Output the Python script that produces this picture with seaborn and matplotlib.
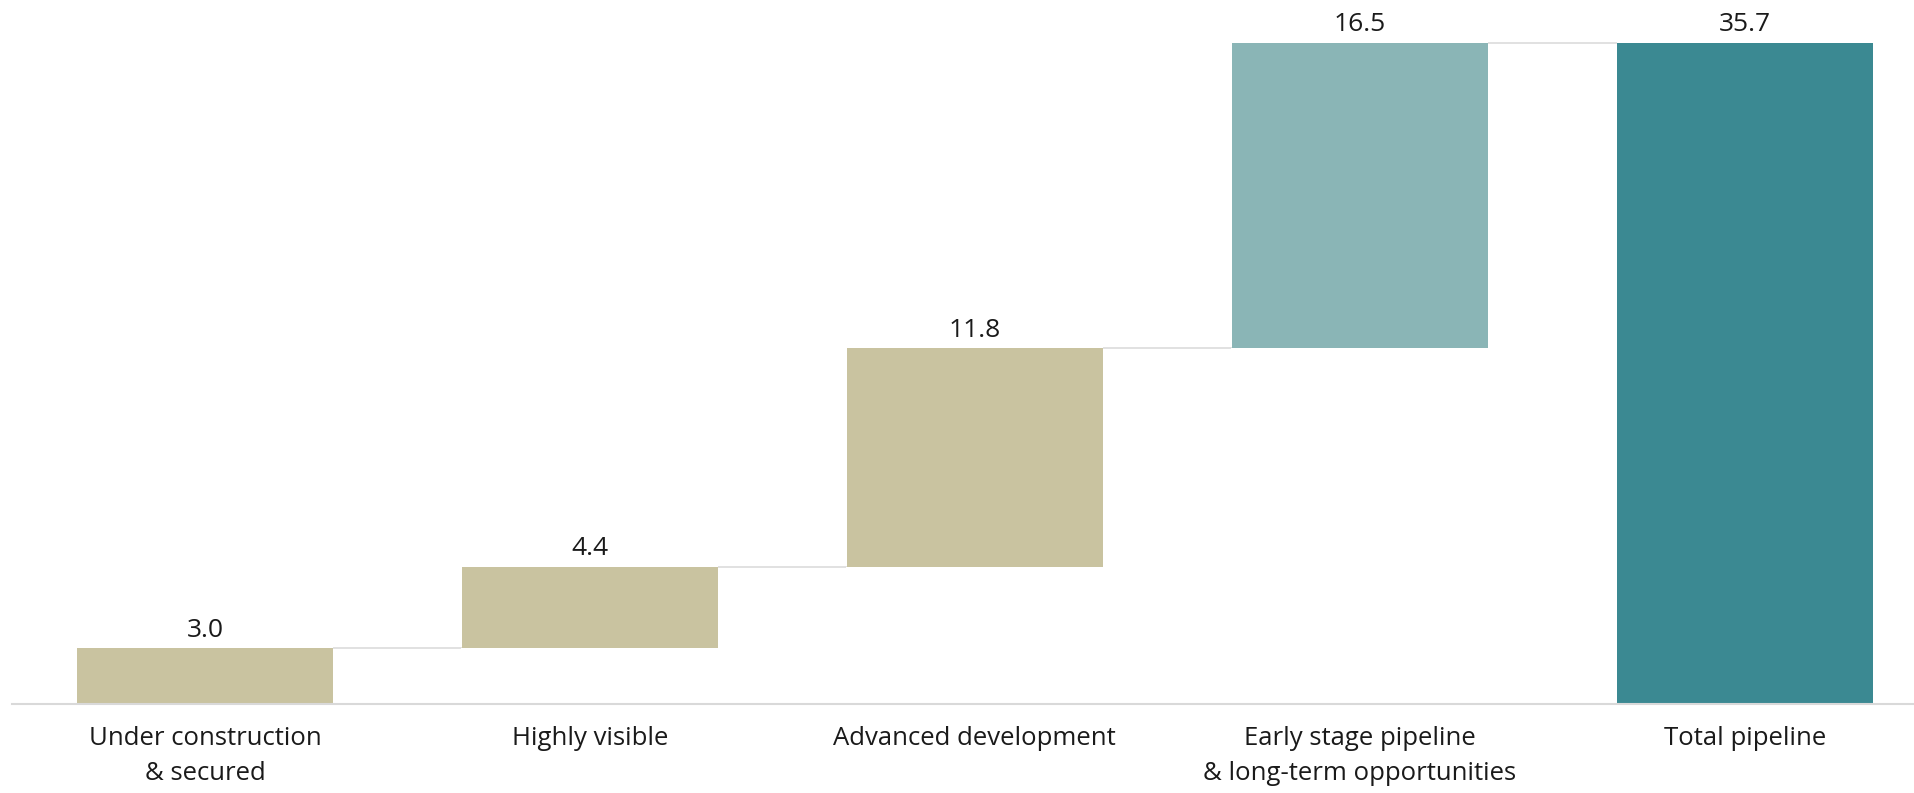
import matplotlib
matplotlib.use("Agg")
import matplotlib.pyplot as plt
import seaborn as sns
import pandas as pd
import numpy as np

categories = ["Under construction\n& secured", "Highly visible", "Advanced development",
              "Early stage pipeline\n& long-term opportunities", "Total pipeline"]
values = [3.0, 4.4, 11.8, 16.5, 35.7]
is_total = [False, False, False, False, True]
bar_colors = ["#C9C3A0", "#C9C3A0", "#C9C3A0", "#8AB5B6", "#3B8992"]

sns.set_theme(style="white")
plt.rcParams['font.family'] = ['Open Sans', 'DejaVu Sans']

# waterfall bases
bases = []
running = 0.0
for v, t in zip(values, is_total):
    if t:
        bases.append(0.0)
    else:
        bases.append(running)
        running += v
tops = [b + v for b, v in zip(bases, values)]

df = pd.DataFrame({"category": categories, "value": values, "base": bases, "top": tops})

fig = plt.figure(figsize=(19.14, 7.93), dpi=100)
ax = fig.add_axes([0.0065, 0.1122, 0.9935, 0.8878])

width = 0.665
# coloured bars to the running top
sns.barplot(data=df, x="category", y="top", hue="category", palette=bar_colors,
            width=width, ax=ax, legend=False, edgecolor="none", linewidth=0,
            saturation=1, zorder=2)
# white mask up to the base (invisible part of the waterfall)
sns.barplot(data=df, x="category", y="base", color="white",
            width=width + 0.004, ax=ax, edgecolor="none", linewidth=0,
            saturation=1, zorder=2.1)

# connectors
for i in range(len(values) - 1):
    level = tops[i]
    ax.plot([i + width / 2, i + 1 - width / 2], [level, level],
            color="#DCDCDC", lw=1.2, zorder=1, solid_capstyle="butt")

# value labels
for i, (t, v) in enumerate(zip(tops, values)):
    ax.annotate(f"{v:.1f}", xy=(i, t), xytext=(0, 4), textcoords="offset points",
                ha="center", va="bottom", fontsize=19, color="#1a1a1a")

ax.set_xlim(-0.5, 4.44)
ax.set_ylim(0, 38.0)
ax.set_xlabel("")
ax.set_ylabel("")
ax.set_yticks([])
ax.set_xticks(range(len(categories)))
ax.set_xticklabels(categories, linespacing=1.5)
ax.tick_params(axis="x", length=0, pad=16, labelsize=18.5, colors="#1a1a1a")
for s in ["top", "right", "left"]:
    ax.spines[s].set_visible(False)
ax.spines["bottom"].set_color("#D9D9D9")
ax.spines["bottom"].set_linewidth(1.5)
ax.spines["bottom"].set_zorder(5)

fig.savefig("out.png", dpi=100, facecolor="white")
